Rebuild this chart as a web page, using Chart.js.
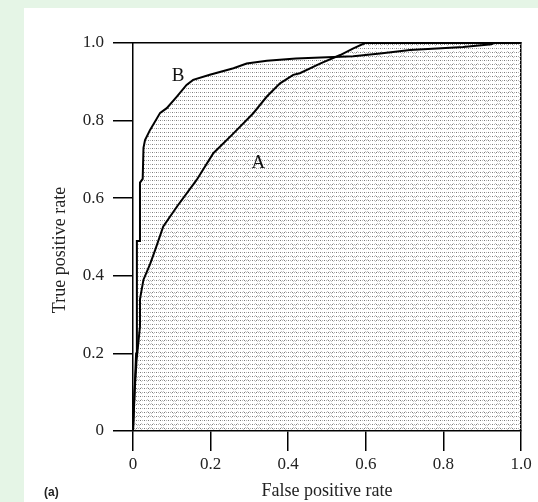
<!DOCTYPE html>
<html>
<head>
<meta charset="utf-8">
<script src="https://cdn.jsdelivr.net/npm/chart.js@4.4.1/dist/chart.umd.min.js"></script>
<style>
  html, body { margin: 0; padding: 0; background: #e5f5e6; }
  #panel { position: absolute; left: 24px; top: 8px; width: 514px; height: 494px; background: #fff; }
  #roc { position: absolute; left: 0; top: 0; }
</style>
</head>
<body>
<div id="panel"></div>
<canvas id="roc" width="538" height="502"></canvas>
<script>
// ROC curve B (the better classifier)
const bFpr = [0, 0.004, 0.008, 0.010, 0.010, 0.018, 0.018, 0.025, 0.027, 0.031, 0.044, 0.070, 0.087,
              0.113, 0.138, 0.155, 0.198, 0.259, 0.293, 0.345, 0.420, 0.500, 0.568, 0.637, 0.714,
              0.783, 0.851, 0.924, 0.930, 1.0];
const bTpr = [0, 0.10, 0.20, 0.33, 0.49, 0.49, 0.64, 0.65, 0.73, 0.75, 0.776, 0.82, 0.832,
              0.862, 0.892, 0.905, 0.918, 0.935, 0.947, 0.954, 0.960, 0.963, 0.966, 0.973, 0.982,
              0.986, 0.990, 0.997, 1.0, 1.0];

// ROC curve A
const aFpr = [0, 0.004, 0.009, 0.018, 0.018, 0.027, 0.044, 0.057, 0.078, 0.113, 0.164, 0.207,
              0.259, 0.310, 0.345, 0.379, 0.413, 0.430, 0.482, 0.534, 0.568, 0.598, 1.0];
const aTpr = [0, 0.10, 0.18, 0.27, 0.34, 0.39, 0.43, 0.466, 0.527, 0.578, 0.647, 0.716,
              0.767, 0.819, 0.862, 0.896, 0.918, 0.922, 0.947, 0.969, 0.986, 1.0, 1.0];

const xTickLabels = ["0", "0.2", "0.4", "0.6", "0.8", "1.0"];
const yTickLabels = ["0", "0.2", "0.4", "0.6", "0.8", "1.0"];

const curveNames = ["A", "B"];
const nameX = [0.323, 0.116];
const nameY = [0.690, 0.916];

const toPoints = (xs, ys) => xs.map((x, i) => ({ x, y: ys[i] }));

// stipple patterns like the printed figure
function makePattern(size, withCross) {
    const c = document.createElement("canvas");
    c.width = size;
    c.height = size;
    const g = c.getContext("2d");
    g.fillStyle = "#7c7c7c";
    for (let i = 0; i < size; i += 4) {
        for (let j = 0; j < size; j += 4) g.fillRect(i, j, 1, 1);
    }
    g.fillStyle = "#b4b4b4";
    for (let i = 2; i < size; i += 4) {
        for (let j = 0; j < size; j += 4) g.fillRect(i, j, 1, 1);
    }
    if (withCross) {
        // small light "x" marks in each cell
        g.fillStyle = "#c6c6c6";
        for (let i = 3; i <= 9; i += 2) {
            g.fillRect(i, i, 1, 1);
            g.fillRect(i, 12 - i, 1, 1);
        }
    }
    return g.createPattern(c, "repeat");
}

const serif = "'Liberation Serif', 'Times New Roman', serif";

const labelsPlugin = {
    id: "figureLabels",
    afterDatasetsDraw(chart) {
        const { ctx, scales } = chart;
        ctx.save();
        ctx.font = "19px " + serif;
        ctx.fillStyle = "#111";
        ctx.textAlign = "center";
        ctx.textBaseline = "middle";
        curveNames.forEach((n, i) => {
            ctx.fillText(n, scales.x.getPixelForValue(nameX[i]), scales.y.getPixelForValue(nameY[i]));
        });
        ctx.restore();
    },
    afterDraw(chart) {
        const { ctx } = chart;
        ctx.save();
        // y axis title, sitting a little below the plot centre as in the figure
        ctx.font = "18px " + serif;
        ctx.fillStyle = "#222";
        ctx.textAlign = "center";
        ctx.textBaseline = "middle";
        ctx.translate(60, 250);
        ctx.rotate(-Math.PI / 2);
        ctx.fillText("True positive rate", 0, 0);
        ctx.restore();

        ctx.save();
        ctx.font = "bold 12px 'Liberation Sans', Arial, sans-serif";
        ctx.fillStyle = "#222";
        ctx.textBaseline = "middle";
        ctx.fillText("(a)", 44, 493);
        ctx.restore();
    }
};

const ctx = document.getElementById("roc").getContext("2d");
const axisLine = { color: "#000", width: 1.5 };

new Chart(ctx, {
    type: "scatter",
    data: {
        datasets: [
            {
                label: "A",
                data: toPoints(aFpr, aTpr),
                showLine: true,
                borderColor: "#000",
                borderWidth: 2,
                pointRadius: 0,
                fill: "origin",
                backgroundColor: makePattern(12, true),
                tension: 0
            },
            {
                label: "B",
                data: toPoints(bFpr, bTpr),
                showLine: true,
                borderColor: "#000",
                borderWidth: 2,
                pointRadius: 0,
                fill: "origin",
                backgroundColor: makePattern(4, false),
                tension: 0
            }
        ]
    },
    options: {
        responsive: false,
        animation: false,
        layout: { padding: { left: 0, top: 43, right: 17, bottom: 0 } },
        plugins: {
            legend: { display: false },
            tooltip: { enabled: false },
            filler: { drawTime: "beforeDatasetsDraw" }
        },
        scales: {
            x: {
                type: "linear",
                position: "bottom",
                min: 0,
                max: 1,
                afterFit: (s) => { s.height = 71; },
                ticks: {
                    stepSize: 0.2,
                    padding: 3,
                    color: "#222",
                    font: { family: serif, size: 17 },
                    callback: (v, i) => xTickLabels[i]
                },
                grid: { drawOnChartArea: false, drawTicks: true, tickLength: 20, color: "#000", lineWidth: 1.5 },
                border: axisLine,
                title: {
                    display: true,
                    text: "False positive rate",
                    color: "#222",
                    font: { family: serif, size: 18 },
                    padding: { top: 0, bottom: 0 }
                }
            },
            y: {
                type: "linear",
                position: "left",
                min: 0,
                max: 1,
                afterFit: (s) => { s.width = 133; },
                ticks: {
                    stepSize: 0.2,
                    padding: 9,
                    color: "#222",
                    font: { family: serif, size: 17 },
                    callback: (v, i) => yTickLabels[i]
                },
                grid: { drawOnChartArea: false, drawTicks: true, tickLength: 20, color: "#000", lineWidth: 1.5 },
                border: axisLine
            },
            x2: {
                type: "linear",
                position: "top",
                min: 0,
                max: 1,
                afterFit: (s) => { s.height = 0; },
                ticks: { display: false },
                grid: { drawOnChartArea: false, drawTicks: false, color: "#000", lineWidth: 1.5 },
                border: axisLine
            },
            y2: {
                type: "linear",
                position: "right",
                min: 0,
                max: 1,
                afterFit: (s) => { s.width = 0; },
                ticks: { display: false },
                grid: { drawOnChartArea: false, drawTicks: false, color: "#000", lineWidth: 1.5 },
                border: axisLine
            }
        }
    },
    plugins: [labelsPlugin]
});
</script>
</body>
</html>
